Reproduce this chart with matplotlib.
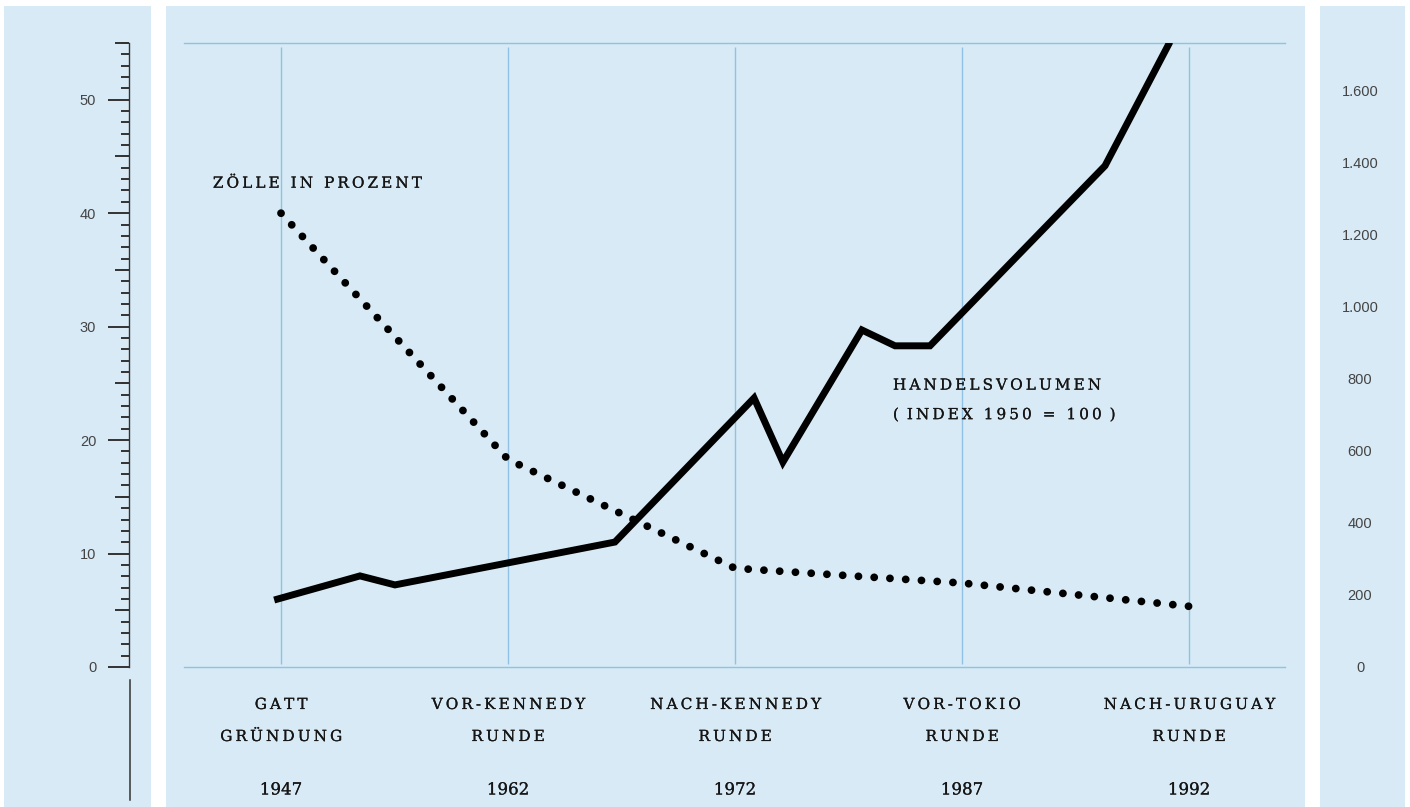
import matplotlib
matplotlib.use("Agg")
import matplotlib.pyplot as plt
import matplotlib.patheffects as pe
import numpy as np
from matplotlib.patches import Rectangle
from matplotlib.lines import Line2D
from matplotlib.ticker import MultipleLocator, FuncFormatter

# data
rounds = ["GATT\nGRÜNDUNG", "VOR-KENNEDY\nRUNDE", "NACH-KENNEDY\nRUNDE",
          "VOR-TOKIO\nRUNDE", "NACH-URUGUAY\nRUNDE"]
years = ["1947", "1962", "1972", "1987", "1992"]
zoelle = [40, 18.3, 8.7, 7.4, 5.35]  # Zölle in Prozent, one per round
handel_pos = [-0.03, 0.348, 0.502, 1.471, 2.084, 2.211, 2.559, 2.705, 2.859, 3.630, 3.916]
handel = [186, 253, 228, 347, 747, 569, 936, 892, 892, 1392, 1736]  # index 1950 = 100
right_ticks = [0, 200, 400, 600, 800, 1000, 1200, 1400, 1600]

W_PX, H_PX = 1410, 807
bg = "#d8eaf6"
grid = "#8fc2e6"
ink = "#151515"
serif = "DejaVu Serif"
sans = "Liberation Sans"
FS = 11
TH = "\u2009"  # thin space
WG = TH + " " + TH
heavy = [pe.withStroke(linewidth=0.15, foreground=ink)]


def spaced(s, word_gap=WG):
    # fake letter spacing with thin spaces
    return word_gap.join(TH.join(w) for w in s.split(" "))


fig = plt.figure(figsize=(W_PX / 100, H_PX / 100), dpi=100)
fig.patch.set_facecolor("white")


def panel(x0, x1, y0, y1):
    return Rectangle((x0 / W_PX, 1 - y1 / H_PX), (x1 - x0) / W_PX, (y1 - y0) / H_PX,
                     transform=fig.transFigure, facecolor=bg, edgecolor="none", zorder=-5)


fig.patches.extend([panel(4, 151, 6, 807), panel(166, 1305, 6, 807), panel(1320, 1405, 6, 807)])

bottom = 1 - 667 / H_PX
height = 624 / H_PX
top_left = 55
top_right = 1733

# middle panel
ax = fig.add_axes([184 / W_PX, bottom, 1101 / W_PX, height])
ax.patch.set_visible(False)
ax.set_xlim(-97 / 227, 4 + 96 / 227)
ax.set_ylim(0, top_left)
for s in ["left", "right"]:
    ax.spines[s].set_visible(False)
for s in ["top", "bottom"]:
    ax.spines[s].set_color(grid)
    ax.spines[s].set_linewidth(1.0)
ax.set_xticks([])
ax.set_yticks([])
ax.vlines(range(len(rounds)), 0.3, top_left - 0.35, color=grid, lw=1.0, zorder=1)

# dotted line: pick the gap so a dot lands on both ends
dot_lw = 5.6
xy = ax.transData.transform(np.column_stack([range(len(zoelle)), zoelle]))
length = np.hypot(*np.diff(xy, axis=0).T).sum()
n_dots = round(length / 15.8)
gap = length / n_dots * 0.9995 / (dot_lw * 100 / 72) - 0.01
ax.plot(range(len(zoelle)), zoelle, color="black", lw=dot_lw,
        linestyle=(0, (0.01, gap)), dash_capstyle="round", zorder=3)

ax_r = ax.twinx()
ax_r.set_ylim(0, top_right)
for s in ax_r.spines.values():
    s.set_visible(False)
ax_r.plot(handel_pos, handel, color="black", lw=5.0, solid_joinstyle="miter",
          solid_capstyle="butt", zorder=3)
ax_r.set_yticks(right_ticks)
ax_r.yaxis.set_major_formatter(FuncFormatter(lambda v, p: f"{int(v):,}".replace(",", ".")))
ax_r.tick_params(axis="y", length=0, pad=54, labelsize=10.5, labelcolor="#444444")
for lbl in ax_r.get_yticklabels():
    lbl.set_ha("center")
    lbl.set_family(sans)

# annotations
lab = dict(family=serif, fontsize=FS, color=ink, va="center", ha="left", path_effects=heavy)
ax.text(-0.30, 42.6, spaced("ZÖLLE IN PROZENT"), **lab)
ax.text(2.696, 24.8, spaced("HANDELSVOLUMEN"), **lab)
index_label = ("(" + TH + " " + spaced("INDEX") + WG + spaced("1950") + WG + "=" + WG
               + spaced("100") + " " + TH + ")")
ax.text(2.696, 22.2, index_label, **lab)

# category labels under the panel
xt = ax.get_xaxis_transform()
for i, (r, y) in enumerate(zip(rounds, years)):
    l1, l2 = r.split("\n")
    ax.annotate(spaced(l1), (i, 0), xycoords=xt, xytext=(0, -38 * 0.72),
                textcoords="offset points", ha="center", va="center",
                family=serif, fontsize=FS, color=ink, annotation_clip=False,
                path_effects=heavy)
    ax.annotate(spaced(l2), (i, 0), xycoords=xt, xytext=(0, -70 * 0.72),
                textcoords="offset points", ha="center", va="center",
                family=serif, fontsize=FS, color=ink, annotation_clip=False,
                path_effects=heavy)
    ax.annotate(y, (i, 0), xycoords=xt, xytext=(0, -123 * 0.72),
                textcoords="offset points", ha="center", va="center",
                family=serif, fontsize=12, color=ink, annotation_clip=False,
                path_effects=heavy)

# left scale
ax_l = fig.add_axes([129 / W_PX, bottom, 8 / W_PX, height])
ax_l.patch.set_visible(False)
ax_l.set_ylim(0, top_left)
for s in ["top", "right", "bottom"]:
    ax_l.spines[s].set_visible(False)
ax_l.spines["left"].set_color("#333333")
ax_l.spines["left"].set_linewidth(1.0)
ax_l.set_xticks([])
ax_l.yaxis.set_major_locator(MultipleLocator(10))
ax_l.yaxis.set_minor_locator(MultipleLocator(1))
ax_l.tick_params(axis="y", which="major", length=15, width=1.4, color="#333333",
                 pad=8.6, labelsize=10.5, labelcolor="#444444")
ax_l.tick_params(axis="y", which="minor", length=5.8, width=1.4, color="#333333")
for lbl in ax_l.get_yticklabels():
    lbl.set_family(sans)

ax_m = ax_l.twinx()
ax_m.set_ylim(0, top_left)
for s in ax_m.spines.values():
    s.set_visible(False)
ax_m.yaxis.set_ticks_position("left")
ax_m.set_yticks(range(5, 56, 10))
ax_m.tick_params(axis="y", length=10, width=1.4, color="#333333",
                 labelleft=False, labelright=False)

fig.lines.append(Line2D([130 / W_PX, 130 / W_PX], [1 - 680 / H_PX, 1 - 800 / H_PX],
                        transform=fig.transFigure, color="#333333", lw=1.1))

fig.savefig("out.png", dpi=100)
